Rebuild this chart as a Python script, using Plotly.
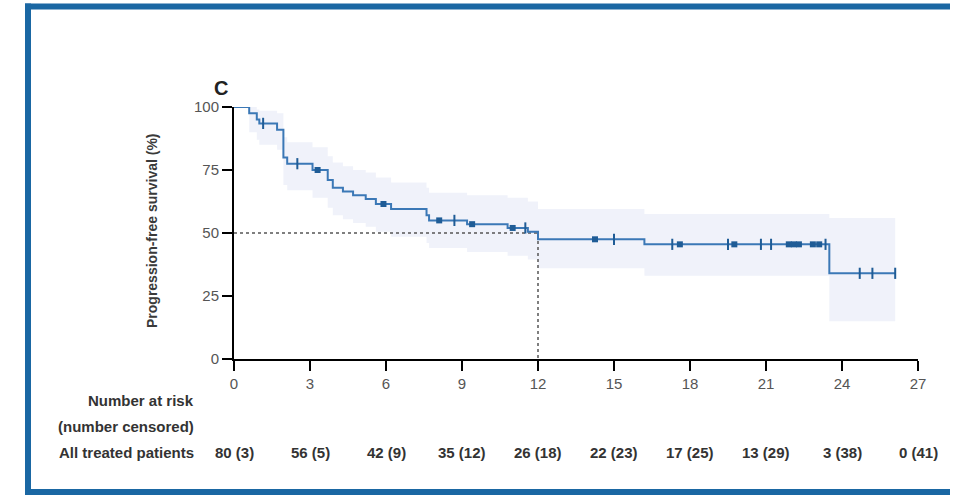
import plotly.graph_objects as go

# Kaplan-Meier estimate of progression-free survival (all treated patients)
step_months = [0, 0.6, 0.9, 1.0, 1.7, 1.95, 2.1, 3.1, 3.7, 3.9, 4.3, 4.7, 5.2, 5.6,
               6.2, 7.6, 7.7, 9.2, 10.8, 11.6, 12.0, 16.2, 23.5]
pfs_pct = [100, 97.5, 95, 93.5, 91, 80, 77.5, 75, 71, 68, 66.5, 65, 63.5, 61.5,
           59.5, 57, 55, 53.5, 52, 50.5, 47.5, 45.5, 34]
ci_upper = [100, 100, 99, 98.5, 97.5, 88, 86, 84, 80.5, 78, 76.5, 75, 74, 72,
            70, 68, 66, 65, 64, 62.5, 59.5, 57.5, 56]
ci_lower = [100, 90, 87, 85, 83, 69, 67, 64, 60, 57, 55.5, 54, 52.5, 50.5,
            48.5, 46, 44, 42.5, 41, 39.5, 36, 33, 15]
last_follow_up = 26.1

# Censored observations: single ticks and clustered (boxed) marks
censor_ticks = [1.15, 2.5, 8.7, 11.5, 15.0, 17.3, 19.5, 20.8, 21.2, 23.35, 24.7, 25.2, 26.1]
censor_boxes = [3.3, 5.9, 8.1, 9.4, 11.0, 14.25, 17.6, 19.75, 21.9, 22.1, 22.3, 22.85, 23.1]

median_pfs = 12.0

x_ticks = [0, 3, 6, 9, 12, 15, 18, 21, 24, 27]
y_ticks = [0, 25, 50, 75, 100]
at_risk = [80, 56, 42, 35, 26, 22, 17, 13, 3, 0]
n_censored = [3, 5, 9, 12, 18, 23, 25, 29, 38, 41]

W, H = 953, 495
L, R, T, B = 234, 35, 107, 136
PW, PH = W - L - R, H - T - B

BLUE = "#3b78b6"
MARK = "#1f5c96"
FRAME = "#1a67a3"
FONT = "Liberation Sans, Arial, sans-serif"


def px_x(px):
    return (px - L) / PW


def px_y(py):
    return (H - B - py) / PH


def surv_at(t):
    s = pfs_pct[0]
    for tm, v in zip(step_months, pfs_pct):
        if tm <= t:
            s = v
    return s


xs = step_months + [last_follow_up]
fig = go.Figure()

# 95% confidence band
fig.add_trace(go.Scatter(x=xs, y=ci_lower + [ci_lower[-1]], mode="lines",
                         line=dict(width=0, shape="hv"), hoverinfo="skip",
                         showlegend=False))
fig.add_trace(go.Scatter(x=xs, y=ci_upper + [ci_upper[-1]], mode="lines",
                         line=dict(width=0, shape="hv"), fill="tonexty",
                         fillcolor="rgba(205,213,240,0.3)", hoverinfo="skip",
                         showlegend=False))

# Median reference lines
fig.add_trace(go.Scatter(x=[0, median_pfs, median_pfs], y=[50, 50, 0], mode="lines",
                         line=dict(color="#555555", width=1.5, dash="dot"),
                         showlegend=False, hoverinfo="skip"))

# Survival curve
fig.add_trace(go.Scatter(x=xs, y=pfs_pct + [pfs_pct[-1]], mode="lines",
                         line=dict(color=BLUE, width=2, shape="hv"),
                         showlegend=False))

# Censor marks
fig.add_trace(go.Scatter(x=censor_ticks, y=[surv_at(t) for t in censor_ticks],
                         mode="markers",
                         marker=dict(symbol="line-ns-open", size=8, color=MARK,
                                     line=dict(color=MARK, width=2)),
                         showlegend=False, cliponaxis=False))
fig.add_trace(go.Scatter(x=censor_boxes, y=[surv_at(t) for t in censor_boxes],
                         mode="markers",
                         marker=dict(symbol="square", size=6, color=MARK),
                         showlegend=False, cliponaxis=False))

axis_common = dict(showline=True, linecolor="black", linewidth=2, ticks="outside",
                   ticklen=10, tickwidth=2, tickcolor="black", showgrid=False,
                   zeroline=False, tickfont=dict(family=FONT, size=15, color="#555555"))

fig.update_layout(
    width=W, height=H,
    margin=dict(l=L, r=R, t=T, b=B, pad=0),
    paper_bgcolor="white", plot_bgcolor="white",
    xaxis=dict(range=[0, 27], tickvals=x_ticks, **axis_common),
    yaxis=dict(range=[0, 100], tickvals=y_ticks, **axis_common),
    font=dict(family=FONT),
)

TXT = dict(family=FONT, size=15, color="#333333", weight="bold")
annotations = [
    dict(text="C", x=px_x(212), y=px_y(75), xref="paper", yref="paper",
         showarrow=False, font=dict(family=FONT, size=20, color="#222222", weight="bold")),
    dict(text="Progression-free survival (%)", x=px_x(142), y=px_y(231),
         xref="paper", yref="paper", textangle=-90, showarrow=False,
         font=dict(family=FONT, size=14, color="#3a3a3a", weight="bold")),
]
for label, py in [("Number at risk", 411), ("(number censored)", 437),
                  ("All treated patients", 463)]:
    annotations.append(dict(text=label, x=px_x(196), y=px_y(py), xref="paper",
                            yref="paper", xanchor="right", showarrow=False,
                            font=TXT))
for xt, n, c in zip(x_ticks, at_risk, n_censored):
    annotations.append(dict(text=f"{n} ({c})", x=xt, y=px_y(463), xref="x",
                            yref="paper", xanchor="center", showarrow=False,
                            font=TXT))
fig.update_layout(annotations=annotations)

# Panel frame: left, top and bottom edges
for x0, y0, x1, y1 in [(28, 3.5, 28, H), (25, 6.5, 950, 6.5), (25, 492, 950, 492)]:
    fig.add_shape(type="line", xref="paper", yref="paper",
                  x0=px_x(x0), y0=px_y(y0), x1=px_x(x1), y1=px_y(y1),
                  line=dict(color=FRAME, width=6))

fig.write_html("out.html", config={"displayModeBar": False})
